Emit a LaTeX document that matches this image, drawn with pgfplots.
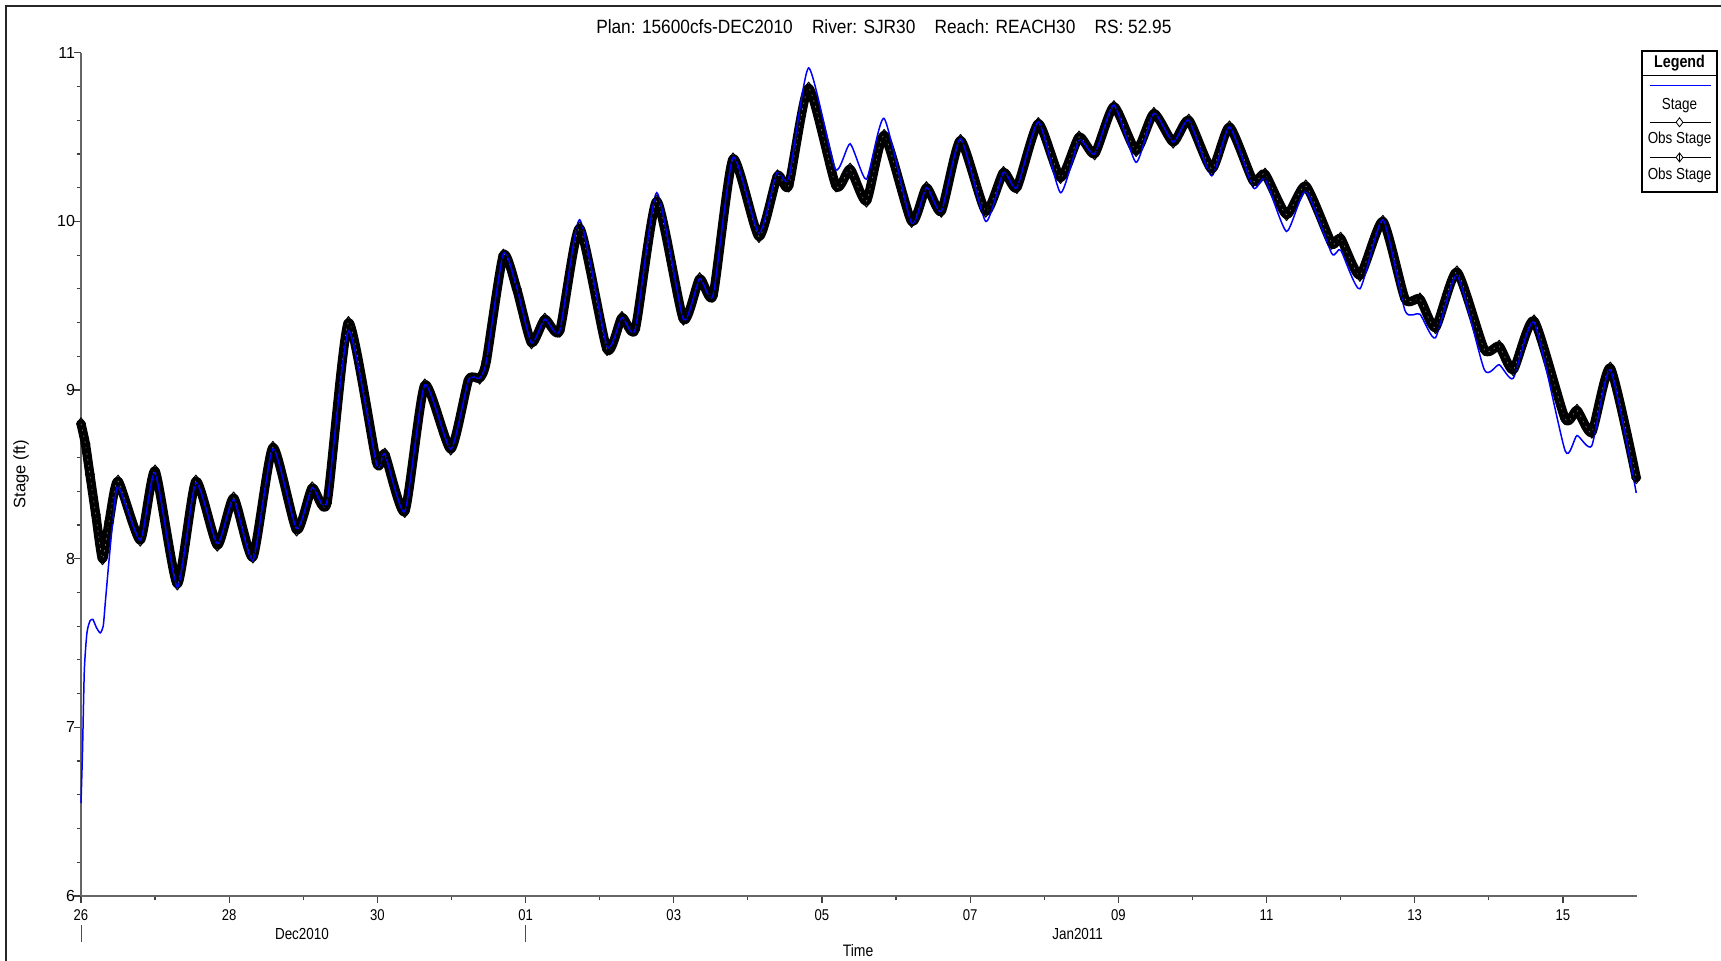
\documentclass[border=0pt]{standalone}
\usepackage{fontspec}
\setmainfont{Liberation Sans}
\newfontfamily\condfont[FakeStretch=0.84]{Liberation Sans}
\newfontfamily\titlefont[FakeStretch=0.9]{Liberation Sans}
\usepackage{pgfplots}
\pgfplotsset{compat=1.18}
\usepackage{pgfplotstable}

% Observed stage (ft), time in days from 26 Dec 2010 00:00
\pgfplotstableread{
day stage
0.00 8.80
0.06 8.68
0.12 8.50
0.20 8.26
0.29 8.00
0.38 8.22
0.50 8.46
0.80 8.11
1.00 8.52
1.30 7.85
1.55 8.46
1.84 8.08
2.06 8.36
2.32 8.01
2.59 8.66
2.91 8.17
3.12 8.42
3.32 8.33
3.61 9.40
3.99 8.57
4.10 8.62
4.37 8.28
4.64 9.03
4.99 8.65
5.23 9.06
5.38 9.07
5.47 9.17
5.70 9.80
5.88 9.60
6.08 9.28
6.26 9.42
6.46 9.35
6.73 9.96
7.10 9.24
7.30 9.43
7.48 9.36
7.77 10.12
8.13 9.42
8.35 9.66
8.53 9.56
8.80 10.37
9.15 9.91
9.40 10.27
9.55 10.21
9.82 10.79
10.19 10.21
10.38 10.31
10.60 10.12
10.84 10.51
11.21 10.00
11.41 10.20
11.61 10.06
11.87 10.48
12.21 10.06
12.45 10.29
12.63 10.20
12.92 10.58
13.22 10.26
13.47 10.50
13.68 10.40
13.94 10.68
14.24 10.42
14.48 10.64
14.74 10.47
14.95 10.60
15.26 10.31
15.50 10.56
15.82 10.24
15.98 10.28
16.27 10.04
16.53 10.21
16.88 9.87
17.00 9.90
17.26 9.68
17.57 10.00
17.87 9.54
18.07 9.54
18.28 9.37
18.57 9.70
18.94 9.24
19.14 9.26
19.33 9.12
19.61 9.41
20.03 8.83
20.19 8.88
20.39 8.75
20.64 9.13
20.99 8.48
}\obsdata

% Computed stage (ft)
\pgfplotstableread{
day stage
0.00 6.55
0.02 6.85
0.045 7.34
0.08 7.56
0.12 7.63
0.16 7.64
0.21 7.59
0.26 7.56
0.30 7.60
0.33 7.75
0.37 7.95
0.42 8.18
0.50 8.43
0.80 8.11
1.00 8.51
1.30 7.83
1.55 8.45
1.84 8.09
2.06 8.35
2.32 7.99
2.59 8.65
2.91 8.18
3.12 8.42
3.32 8.34
3.61 9.35
3.99 8.56
4.10 8.62
4.37 8.28
4.64 9.03
4.99 8.65
5.23 9.06
5.38 9.07
5.47 9.17
5.70 9.81
5.88 9.61
6.08 9.28
6.26 9.42
6.46 9.35
6.73 10.01
7.10 9.26
7.30 9.43
7.48 9.36
7.77 10.17
8.13 9.42
8.35 9.66
8.53 9.56
8.80 10.38
9.15 9.93
9.39 10.29
9.55 10.25
9.82 10.91
10.18 10.31
10.38 10.46
10.60 10.25
10.84 10.61
11.21 9.99
11.41 10.20
11.61 10.06
11.87 10.49
12.21 10.00
12.45 10.29
12.63 10.20
12.92 10.59
13.22 10.17
13.47 10.48
13.68 10.40
13.94 10.69
14.24 10.35
14.48 10.64
14.74 10.47
14.95 10.60
15.26 10.27
15.50 10.56
15.82 10.20
15.98 10.25
16.27 9.94
16.53 10.18
16.88 9.81
17.00 9.83
17.26 9.60
17.57 10.01
17.87 9.47
18.07 9.45
18.28 9.31
18.57 9.68
18.94 9.12
19.14 9.15
19.33 9.07
19.61 9.40
20.03 8.64
20.19 8.73
20.39 8.67
20.64 9.12
20.99 8.39
}\simdata

\begin{document}
\begin{tikzpicture}[x=1pt,y=1pt]
\path[use as bounding box] (0,0) rectangle (860.5,-480);
% outer frame (top and left edges)
\draw[line width=1pt, black!85] (3,-600) -- (3,-3) -- (900,-3);

\begin{axis}[
  at={(40.5pt,-448pt)}, anchor=south west,
  scale only axis, width=778pt, height=421.65pt,
  xmin=0, xmax=21, ymin=6, ymax=11,
  axis lines=left,
  axis line style={-, line width=1pt, black!60},
  tick align=outside,
  tick style={black!75, line width=0.6pt},
  major tick length=3.5pt, minor tick length=2.2pt,
  xtick={0,2,...,20},
  xticklabels={26,28,30,01,03,05,07,09,11,13,15},
  minor x tick num=1,
  ytick={6,7,8,9,10,11},
  minor y tick num=4,
  /pgf/number format/assume math mode=true,
  xticklabel style={font=\condfont\fontsize{7.8}{9}\selectfont},
  yticklabel style={font=\fontsize{8}{9}\selectfont, anchor=east, xshift=-1pt},
  yticklabel shift=-5pt,
  xlabel={Time}, ylabel={Stage (ft)},
  every axis x label/.style={at={(axis description cs:0.4994,-0.0646)}, anchor=center, font=\condfont\fontsize{8.3}{10}\selectfont},
  every axis y label/.style={at={(axis description cs:-0.0385,0.500)}, rotate=90, anchor=center, font=\fontsize{8.3}{10}\selectfont},
  title={Plan: 15600cfs-DEC2010\hspace{1em}River: SJR30\hspace{1em}Reach: REACH30\hspace{1em}RS: 52.95},
  every axis title/.style={at={(axis description cs:0.516,1.0313)}, anchor=center, font=\titlefont\fontsize{9.6}{11}\selectfont},
  clip=false,
  extra description/.code={
    \node[font=\condfont\fontsize{8}{9}\selectfont] at (axis description cs:0.142,-0.0451) {Dec2010};
    \node[font=\condfont\fontsize{8}{9}\selectfont] at (axis description cs:0.6405,-0.0451) {Jan2011};
    \draw[black!70, line width=0.5pt] (axis description cs:0,-0.0344) -- (axis description cs:0,-0.0545);
    \draw[black!70, line width=0.5pt] (axis description cs:0.285714,-0.0344) -- (axis description cs:0.285714,-0.0545);
  },
]
% observed stage: heavy band of overlapping diamonds
\addplot[black, line width=4.6pt, line join=round, line cap=round, smooth, tension=0.35,
  mark=diamond, mark size=3pt, mark options={solid, line width=0.5pt, fill=none}]
  table[x=day, y=stage] {\obsdata};
% thin light trace inside the band, like the gaps between the open diamonds
\addplot[black!55, line width=0.35pt, dash pattern=on 0.8pt off 2.2pt, smooth, tension=0.35, mark=none, forget plot]
  table[x=day, y=stage] {\obsdata};
% computed stage
\addplot[blue, line width=0.75pt, smooth, tension=0.35, mark=none]
  table[x=day, y=stage] {\simdata};
\end{axis}

% legend box
\draw[line width=0.6pt] (821,-25.5) rectangle (858.5,-96);
\draw[line width=0.5pt] (821,-37.5) -- (858.5,-37.5);
\node[font=\condfont\bfseries\fontsize{8.5}{10}\selectfont] at (839.75,-31.4) {Legend};
\draw[blue, line width=0.75pt] (825,-42.85) -- (855.5,-42.85);
\node[font=\condfont\fontsize{8}{9}\selectfont] at (839.75,-52.9) {Stage};
\draw[black, line width=0.4pt] (825,-61.15) -- (855.5,-61.15);
\draw[black, line width=0.4pt, fill=white] (839.75,-58.9) -- (841.45,-61.15) -- (839.75,-63.4) -- (838.05,-61.15) -- cycle;
\node[font=\condfont\fontsize{8}{9}\selectfont] at (839.75,-69.5) {Obs Stage};
\draw[black, line width=0.4pt] (825,-78.7) -- (855.5,-78.7);
\draw[black, line width=0.4pt, fill=white] (839.75,-76.45) -- (841.45,-78.7) -- (839.75,-80.95) -- (838.05,-78.7) -- cycle;
\draw[black, line width=0.4pt] (839.75,-76.45) -- (839.75,-80.95);
\node[font=\condfont\fontsize{8}{9}\selectfont] at (839.75,-87.5) {Obs Stage};
\end{tikzpicture}
\end{document}
